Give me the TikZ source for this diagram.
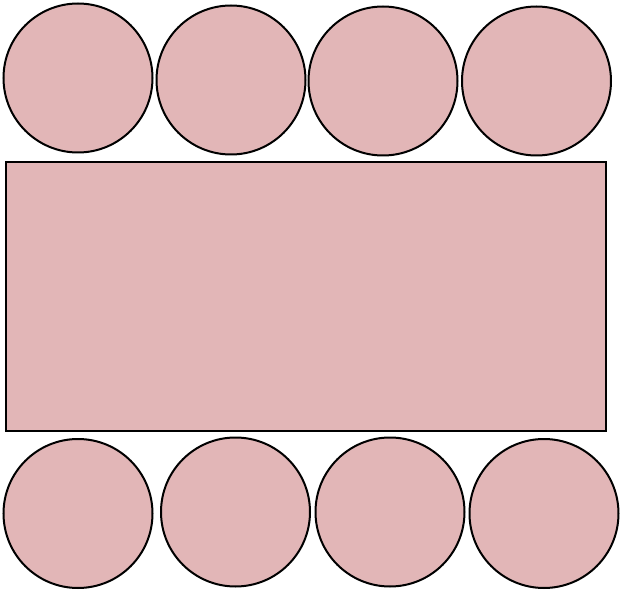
\documentclass[tikz,border=0pt]{standalone}
\definecolor{seat}{HTML}{E2B6B7}
\begin{document}
\begin{tikzpicture}[x=1pt,y=-1pt,
  chair/.style={circle,draw=black,fill=seat,line width=2pt,minimum size=149pt,inner sep=0pt},
  tablebox/.style={draw=black,fill=seat,line width=2pt}]
\useasboundingbox (0,0) rectangle (622,591);
\node[chair] (t1) at (78,78) {};
\node[chair] (t2) at (231,80) {};
\node[chair] (t3) at (383,81) {};
\node[chair] (t4) at (536.5,81) {};
\draw[tablebox] (6,162) rectangle (606,431);
\node[chair] (b1) at (78,513.5) {};
\node[chair] (b2) at (235.5,512) {};
\node[chair] (b3) at (390,512) {};
\node[chair] (b4) at (544,513.5) {};
\end{tikzpicture}
\end{document}
